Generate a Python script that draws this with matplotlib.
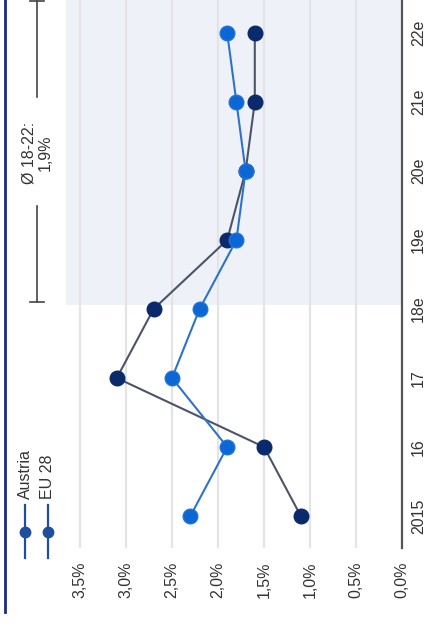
import matplotlib
matplotlib.use("Agg")
import matplotlib.pyplot as plt
from matplotlib.lines import Line2D

plt.rcParams['font.family'] = ['Liberation Sans', 'DejaVu Sans']

# ---- data ----
years = ["2015", "16", "17", "18e", "19e", "20e", "21e", "22e"]
austria = [1.1, 1.5, 3.1, 2.7, 1.9, 1.7, 1.6, 1.6]
eu28 = [2.3, 1.9, 2.5, 2.2, 1.8, 1.7, 1.8, 1.9]
value_ticks = [0.0, 0.5, 1.0, 1.5, 2.0, 2.5, 3.0, 3.5]
value_labels = ["0,0%", "0,5%", "1,0%", "1,5%", "2,0%", "2,5%", "3,0%", "3,5%"]
forecast_start = 3          # index of "18e"
avg_label = "Ø 18-22:\n1,9%"

W, H = 428, 627
fig = plt.figure(figsize=(W / 100, H / 100), dpi=100)

def fx(px):
    return px / W

def fy(py):
    return 1 - py / H

ax_left, ax_right, ax_top, ax_bottom = 66, 402, 0, 548
ax = fig.add_axes([fx(ax_left), fy(ax_bottom), fx(ax_right - ax_left), (ax_bottom - ax_top) / H])

idx = list(range(len(years)))

# chart is drawn rotated: values run right-to-left, years bottom-to-top
ax.set_xlim((402 - ax_left) / 92, 0)
ax.set_ylim((516 - ax_bottom) / 69, (516 - ax_top) / 69)

# forecast shading
ax.axhspan(forecast_start + 0.06, len(years) + 1, color="#eef2f8", zorder=0, lw=0)

# grid
for v in value_ticks[1:]:
    ax.axvline(v, color="#e4e4e4", lw=1.6, zorder=1)

ax.plot(austria, idx, color="#4d5368", lw=1.5, marker="o", ms=10.5,
        mfc="#0b2a6c", mec="#0b2a6c", zorder=3)
ax.plot(eu28, idx, color="#2f72cc", lw=1.5, marker="o", ms=10.5,
        mfc="#0c66d4", mec="#1b74dc", zorder=4)

for s in ["top", "left", "bottom"]:
    ax.spines[s].set_visible(False)
ax.spines["right"].set_color("#555555")
ax.spines["right"].set_linewidth(1.6)

ax.set_xticks(value_ticks)
ax.set_xticklabels(value_labels, rotation=90, fontsize=11.5, color="#333333")
ax.tick_params(axis="x", length=0, pad=10)
ax.yaxis.tick_right()
ax.set_yticks(idx)
ax.set_yticklabels(years, rotation=90, fontsize=11.5, color="#333333", va="center")
ax.tick_params(axis="y", length=0, pad=6.5)

# average bracket (outside the axes, to the left)
bx = (402 - 37) / 92
top_i = (516 - ax_top) / 69 - 0.02
lo_i = forecast_start + 0.1
gap_lo, gap_hi = 4.5, 6.07
kw = dict(color="#444444", lw=1.2, clip_on=False, zorder=5)
ax.plot([bx, bx], [lo_i, gap_lo], **kw)
ax.plot([bx, bx], [gap_hi, top_i], **kw)
cap = 0.08
ax.plot([bx - cap, bx + cap], [lo_i, lo_i], **kw)
ax.plot([bx - cap, bx + cap], [top_i, top_i], **kw)
ax.text(bx, (gap_lo + gap_hi) / 2 - 0.02, avg_label, rotation=90, ha="center", va="center",
        multialignment="center", fontsize=11.5, color="#333333", clip_on=False,
        linespacing=1.1)

# legend (rotated)
leg_col = "#1f4e9c"
for xp, name in [(25, "Austria"), (48, "EU 28")]:
    fig.add_artist(Line2D([fx(xp), fx(xp)], [fy(558), fy(505)], transform=fig.transFigure,
                          color=leg_col, lw=1.6))
    fig.add_artist(Line2D([fx(xp)], [fy(532)], transform=fig.transFigure, color=leg_col,
                          marker="o", ms=7.5, mfc=leg_col, mec=leg_col))
    fig.text(fx(xp), fy(499), name, rotation=90, ha="center", va="bottom",
             fontsize=11.5, color="#333333")

# left frame line
fig.add_artist(Line2D([fx(5), fx(5)], [fy(612), 1.0], transform=fig.transFigure,
                      color="#1a2b80", lw=2.0))

fig.savefig("out.png", dpi=100)
